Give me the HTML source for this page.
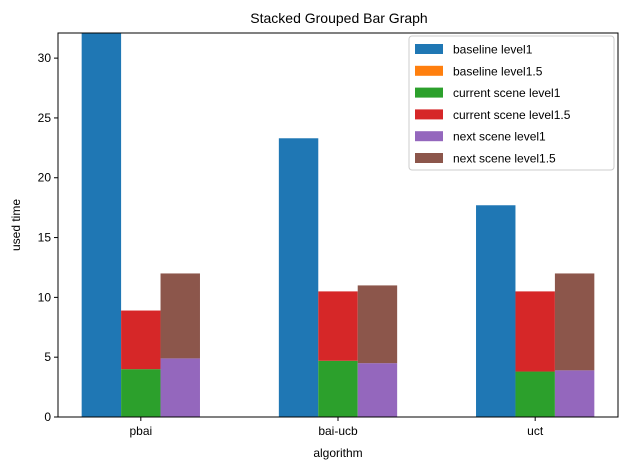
<!DOCTYPE html>
<html><head><meta charset="utf-8"><style>
body{margin:0;background:#fff;}
svg{display:block;font-family:"Liberation Sans","DejaVu Sans",sans-serif;}
</style></head><body>
<svg id="chart" width="630" height="470">
<text x="339" y="23" font-size="14" text-anchor="middle">Stacked Grouped Bar Graph</text>
<g id="bars"></g>
<g id="axes"></g>
<text x="338" y="457" font-size="12" text-anchor="middle">algorithm</text>
<text x="20" y="225" font-size="12" text-anchor="middle" transform="rotate(-90 20 225)">used time</text>
<g id="legend"></g>
</svg>
<script>
const categories=["pbai","bai-ucb","uct"];
const baselineL1=[35,23.3,17.7];
const baselineL15=[0,0,0];
const currentL1=[4.0,4.7,3.8];
const currentL15=[4.9,5.8,6.7];
const nextL1=[4.9,4.5,3.9];
const nextL15=[7.1,6.5,8.1];
const yTicks=[0,5,10,15,20,25,30];
const seriesNames=["baseline level1","baseline level1.5","current scene level1","current scene level1.5","next scene level1","next scene level1.5"];
const colors=["#1f77b4","#ff7f0e","#2ca02c","#d62728","#9467bd","#8c564b"];
const L=58,R=618,T=33,B=417,yMax=32.1;
const NS="http://www.w3.org/2000/svg";
const xs=v=>L+(v+0.42)/2.84*(R-L);
const ys=v=>B-v/yMax*(B-T);
function mk(tag,attrs,parent){const e=document.createElementNS(NS,tag);for(const k in attrs)e.setAttribute(k,attrs[k]);parent.appendChild(e);return e;}
const bars=document.getElementById('bars');
const clip=mk('clipPath',{id:'pc'},bars);mk('rect',{x:L,y:T,width:R-L,height:B-T},clip);
bars.setAttribute('clip-path','url(#pc)');
const groups=[[baselineL1,baselineL15],[currentL1,currentL15],[nextL1,nextL15]];
categories.forEach((c,i)=>{
  groups.forEach((g,gi)=>{
    const off=(gi-1)*0.2;
    const x0=xs(i+off-0.1),x1=xs(i+off+0.1);
    let base=0;
    g.forEach((arr,li)=>{
      const v=arr[i];
      const r=mk('rect',{x:x0,y:ys(base+v),width:x1-x0,height:ys(base)-ys(base+v),fill:colors[gi*2+li]},bars);
      
      
      base+=v;
    });
  });
});
const ax=document.getElementById('axes');
const frame=mk('rect',{x:L,y:T,width:R-L,height:B-T,fill:'none',stroke:'#000','stroke-width':1},ax);


yTicks.forEach(t=>{
  const y=ys(t);
  mk('line',{x1:L-4,x2:L,y1:y,y2:y,stroke:'#000'},ax);
  const tx=mk('text',{x:L-7,y:y+4,'font-size':12,'text-anchor':'end'},ax);tx.textContent=t;
  
  
});
categories.forEach((c,i)=>{
  const x=xs(i);
  mk('line',{x1:x,x2:x,y1:B,y2:B+4,stroke:'#000'},ax);
  const tx=mk('text',{x:x,y:B+18,'font-size':12,'text-anchor':'middle'},ax);tx.textContent=c;
  
  
});
const lg=document.getElementById('legend');


mk('rect',{x:409,y:36,width:205,height:134,rx:3,fill:'#fff',stroke:'#ccc','fill-opacity':0.8},lg);
seriesNames.forEach((n,i)=>{
  const y=49+i*21.8;
  const g=mk('g',{},lg);
  
  
  mk('rect',{x:415,y:y-5,width:28,height:10,fill:colors[i]},g);
  const t=mk('text',{x:453,y:y+4.5,'font-size':12},g);t.textContent=n;
});
</script>
</body></html>
